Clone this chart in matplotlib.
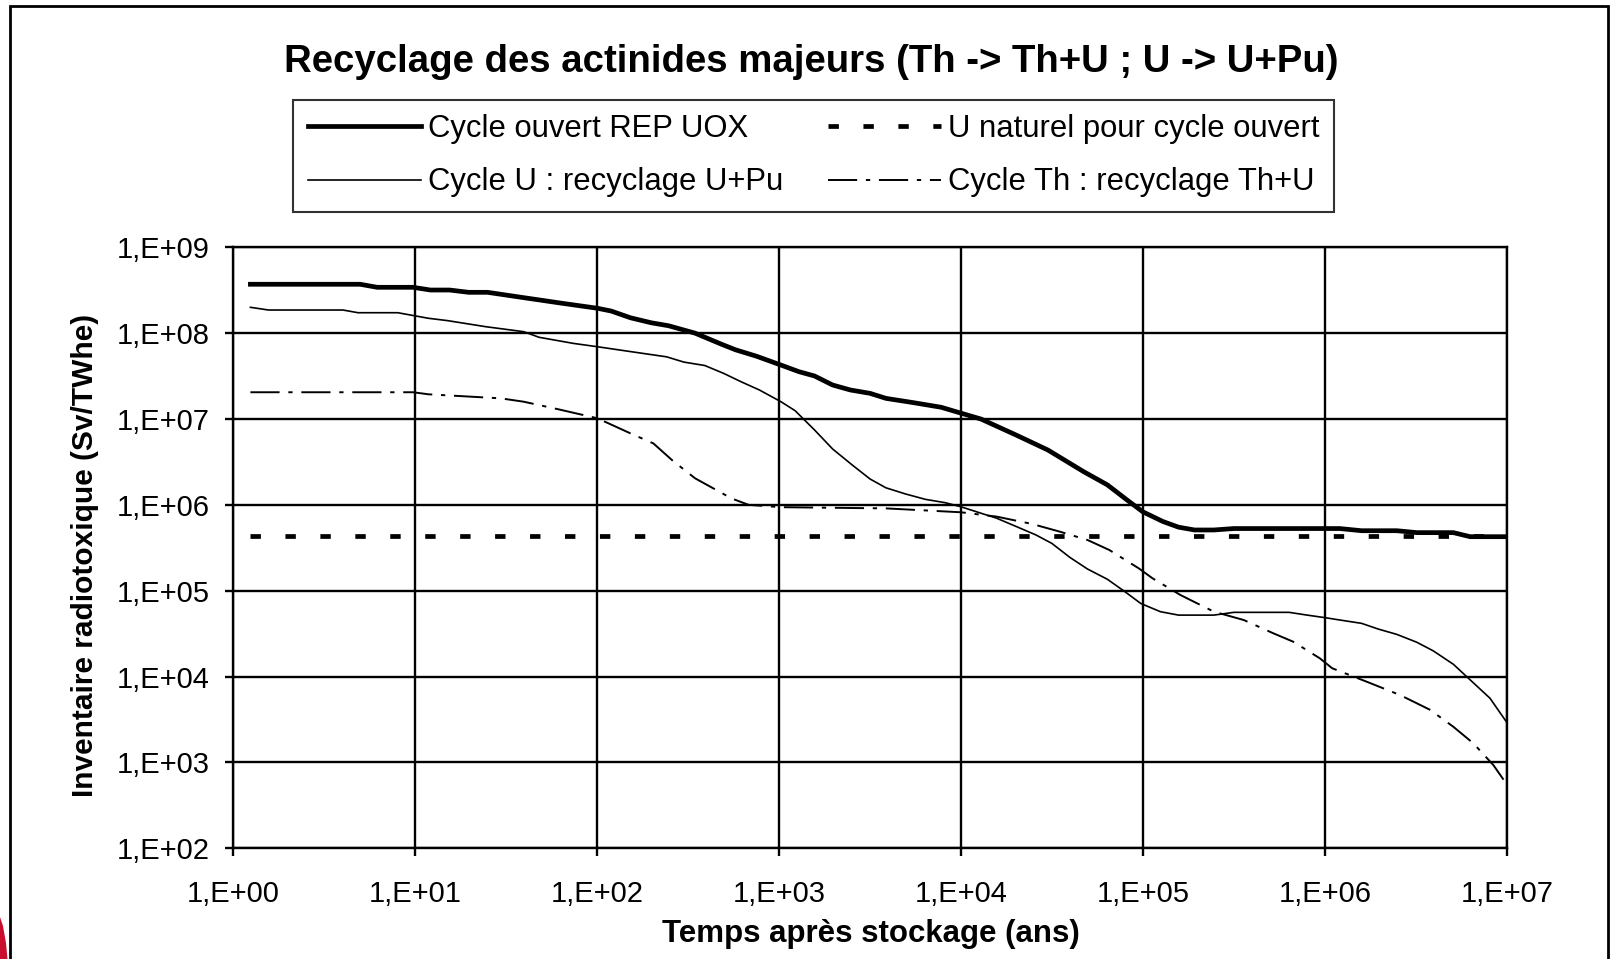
import matplotlib
matplotlib.use('Agg')
import matplotlib.pyplot as plt
from matplotlib.patches import Rectangle, Polygon

# ---- données ----
t_uox = [1.24, 4.97, 6.17, 9.7, 12.1, 15.4, 19.6, 24.9, 39.4, 63.8, 100, 119, 152, 198, 246,
         344, 483, 574, 746, 1020, 1280, 1560, 1960, 2450, 3150, 3850, 5460, 7740, 9950,
         12800, 20000, 29900, 46900, 63400, 81300, 99300, 128000, 156000, 191000, 244000,
         314000, 1.20e6, 1.58e6, 2.47e6, 3.18e6, 5.05e6, 6.24e6, 1.0e7]
v_uox = [3.71e8, 3.71e8, 3.42e8, 3.42e8, 3.18e8, 3.18e8, 2.99e8, 2.99e8, 2.59e8, 2.23e8, 1.95e8,
         1.81e8, 1.51e8, 1.32e8, 1.22e8, 1.0e8, 7.4e7, 6.4e7, 5.4e7, 4.25e7, 3.56e7, 3.17e7,
         2.49e7, 2.18e7, 1.99e7, 1.74e7, 1.55e7, 1.37e7, 1.17e7, 1.0e7, 6.5e6, 4.35e6, 2.44e6,
         1.71e6, 1.14e6, 8.3e5, 6.4e5, 5.5e5, 5.1e5, 5.1e5, 5.3e5, 5.3e5, 5.0e5, 5.0e5, 4.75e5,
         4.75e5, 4.26e5, 4.26e5]

t_unat = [1.24, 1.0e7]
v_unat = [4.35e5, 4.35e5]

t_cycle_u = [1.24, 1.56, 4.0, 4.84, 8.0, 11.8, 15.0, 24.3, 39.4, 47.8, 73.8, 100, 152, 240, 299,
             389, 494, 615, 776, 1020, 1220, 1560, 1960, 2510, 3150, 3850, 4930, 6340, 8150,
             9950, 12800, 15600, 20000, 25700, 31400, 39400, 49300, 63400, 79400, 96800, 124000,
             156000, 244000, 314000, 632000, 794000, 1.0e6, 1.2e6, 1.58e6, 1.95e6, 2.47e6,
             3.18e6, 3.92e6, 5.05e6, 5.97e6, 8.02e6, 1.0e7]
v_cycle_u = [2.0e8, 1.86e8, 1.86e8, 1.73e8, 1.73e8, 1.49e8, 1.40e8, 1.19e8, 1.04e8, 8.95e7, 7.6e7,
             6.95e7, 6.1e7, 5.3e7, 4.6e7, 4.2e7, 3.4e7, 2.72e7, 2.18e7, 1.59e7, 1.25e7, 7.45e6,
             4.48e6, 2.92e6, 2.0e6, 1.58e6, 1.34e6, 1.16e6, 1.06e6, 9.5e5, 8.0e5, 7.0e5, 5.6e5,
             4.46e5, 3.56e5, 2.45e5, 1.79e5, 1.36e5, 9.7e4, 7.1e4, 5.7e4, 5.2e4, 5.2e4, 5.6e4,
             5.6e4, 5.2e4, 4.85e4, 4.56e4, 4.17e4, 3.58e4, 3.1e4, 2.51e4, 1.99e4, 1.39e4, 1.0e4,
             5.6e3, 2.86e3]

t_cycle_th = [1.24, 9.7, 11.8, 29.5, 39.4, 60.8, 100, 152, 203, 258, 344, 450, 545, 678, 1020,
              3850, 9950, 15600, 24400, 34800, 49300, 65000, 94400, 112000, 160000, 244000,
              356000, 518000, 665000, 933000, 1.09e6, 1.69e6, 2.57e6, 3.76e6, 5.05e6, 6.5e6,
              8.38e6, 9.84e6]
v_cycle_th = [2.05e7, 2.05e7, 1.94e7, 1.74e7, 1.59e7, 1.30e7, 1.02e7, 6.8e6, 5.2e6, 3.3e6, 2.04e6,
              1.49e6, 1.19e6, 1.0e6, 9.4e5, 9.1e5, 8.2e5, 7.3e5, 6.0e5, 4.87e5, 3.9e5, 2.98e5,
              1.82e5, 1.4e5, 8.9e4, 5.7e4, 4.56e4, 3.19e4, 2.55e4, 1.63e4, 1.25e4, 8.7e3, 6.1e3,
              4.1e3, 2.6e3, 1.67e3, 9.3e2, 5.7e2]

x_ticks = [1e0, 1e1, 1e2, 1e3, 1e4, 1e5, 1e6, 1e7]
x_labels = ['1,E+00', '1,E+01', '1,E+02', '1,E+03', '1,E+04', '1,E+05', '1,E+06', '1,E+07']
y_ticks = [1e2, 1e3, 1e4, 1e5, 1e6, 1e7, 1e8, 1e9]
y_labels = ['1,E+02', '1,E+03', '1,E+04', '1,E+05', '1,E+06', '1,E+07', '1,E+08', '1,E+09']

# ---- figure ----
plt.rcParams['font.family'] = ['Liberation Sans', 'DejaVu Sans']
W, H = 1612, 959
fig = plt.figure(figsize=(W / 100, H / 100), dpi=100)
ax = fig.add_axes([233.4 / W, 1 - 848.3 / H, (1507.4 - 233.4) / W, (848.3 - 247.3) / H])

ax.plot(t_uox, v_uox, color='black', lw=3.4, solid_joinstyle='round',
        label='Cycle ouvert REP UOX')
ax.plot(t_cycle_u, v_cycle_u, color='black', lw=1.2, label='Cycle U : recyclage U+Pu')
ax.plot(t_unat, v_unat, color='black', lw=3.4, linestyle=(0, (2.2, 5.2)),
        dash_capstyle='butt', label='U naturel pour cycle ouvert')
ax.plot(t_cycle_th, v_cycle_th, color='black', lw=1.4, linestyle=(0, (15, 4.5, 2.2, 4.5)),
        label='Cycle Th : recyclage Th+U')

ax.set_xscale('log')
ax.set_yscale('log')
ax.set_xlim(1, 1e7)
ax.set_ylim(1e2, 1e9)
ax.set_xticks(x_ticks)
ax.set_xticklabels(x_labels)
ax.set_yticks(y_ticks)
ax.set_yticklabels(y_labels)
ax.minorticks_off()
ax.tick_params(which='major', direction='out', length=6, width=1.7, labelsize=21,
               color='black')
ax.tick_params(axis='y', pad=11)
ax.tick_params(axis='x', pad=17)
ax.grid(True, color='black', lw=1.7)
for sp in ax.spines.values():
    sp.set_linewidth(1.7)

ax.set_xlabel('Temps après stockage (ans)', fontsize=22.5, fontweight='bold', va='center')
ax.xaxis.set_label_coords(0.5, (848.3 - 934) / 601)
ax.set_ylabel('Inventaire radiotoxique (Sv/TWhe)', fontsize=21.5, fontweight='bold',
              va='center')
ax.yaxis.set_label_coords((85 - 233.4) / 1274, (848.3 - 555.6) / 601)

fig.text(811 / W, 1 - 71.7 / H, 'Recyclage des actinides majeurs (Th -> Th+U ; U -> U+Pu)',
         fontsize=27.6, fontweight='bold', ha='center', va='baseline')

h, l = ax.get_legend_handles_labels()
leg = fig.legend(h, l, ncol=2,
                 loc='upper left', bbox_to_anchor=(293 / W, 1 - 99.7 / H),
                 fontsize=22.3, frameon=True, fancybox=False, edgecolor='black',
                 handlelength=3.65, handletextpad=0.25, columnspacing=1.42,
                 labelspacing=0.75, borderpad=0.47, borderaxespad=0)
leg.get_frame().set_linewidth(1.5)

# cadre extérieur et coin rouge
fig.add_artist(Rectangle((10 / W, -0.05), (1608 - 10) / W, 1.05 - 6 / H,
                         transform=fig.transFigure, fill=False, lw=2.0,
                         edgecolor='black', clip_on=False))
fig.add_artist(Polygon([(0, 1 - 917 / H), (3 / W, 1 - 926 / H), (6 / W, 1 - 943 / H),
                        (7.5 / W, 0), (0, 0)], closed=True,
                       transform=fig.transFigure, facecolor='#c8102e', edgecolor='none'))

fig.savefig('out.png', dpi=100)
